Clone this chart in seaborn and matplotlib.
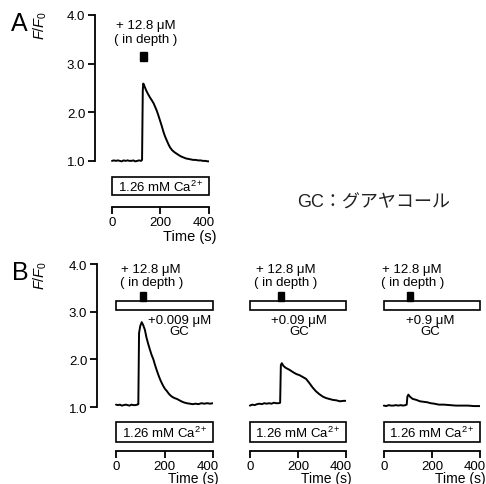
import matplotlib
matplotlib.use("Agg")
import matplotlib.pyplot as plt
import matplotlib.transforms as mtransforms
import seaborn as sns
from matplotlib.patches import Rectangle

# traces (time in s, F/F0)
time_a = [0, 8, 16, 24, 32, 40, 48, 56, 64, 72, 80, 88, 96, 104, 112, 120, 124, 127, 129, 133,
          140, 148, 157, 165, 172, 178, 184, 191, 198, 205, 212, 219, 225, 232, 239, 248, 257, 266, 275, 285,
          295, 305, 315, 325, 335, 345, 355, 365, 375, 385, 395, 400]
ff0_a = [1.00, 1.01, 1.00, 1.01, 1.00, 0.99, 1.01, 1.00, 1.01, 1.00, 1.00, 1.01, 0.99, 1.00, 1.01, 1.00, 1.02, 2.45, 2.59, 2.55,
         2.46, 2.38, 2.30, 2.24, 2.18, 2.11, 2.04, 1.94, 1.83, 1.72, 1.60, 1.50, 1.43, 1.35, 1.28, 1.22, 1.18, 1.15, 1.12, 1.09,
         1.07, 1.05, 1.04, 1.03, 1.02, 1.02, 1.01, 1.01, 1.00, 1.00, 0.99, 0.99]

time_b1 = [0, 8, 16, 24, 32, 40, 48, 56, 64, 72, 80, 88, 92, 95, 100, 106, 112, 119, 126, 133,
           140, 147, 154, 161, 168, 175, 181, 188, 195, 202, 209, 216, 223, 230, 240, 251, 262, 273, 284, 292,
           304, 316, 328, 340, 352, 364, 376, 388, 400]
ff0_b1 = [1.05, 1.04, 1.05, 1.03, 1.04, 1.05, 1.04, 1.03, 1.05, 1.04, 1.04, 1.05, 1.06, 2.55, 2.70, 2.78, 2.72, 2.62, 2.45, 2.32,
          2.20, 2.09, 2.00, 1.88, 1.77, 1.67, 1.59, 1.51, 1.44, 1.38, 1.34, 1.29, 1.25, 1.22, 1.19, 1.17, 1.14, 1.11, 1.09, 1.08,
          1.07, 1.06, 1.07, 1.06, 1.08, 1.07, 1.08, 1.07, 1.08]

time_b2 = [0, 10, 20, 30, 40, 50, 60, 70, 80, 90, 100, 110, 120, 126, 129, 133, 140, 150,
           165, 180, 194, 206, 220, 234, 248, 261, 275, 289, 303, 316, 330, 345, 360, 375, 390, 400]
ff0_b2 = [1.03, 1.05, 1.04, 1.06, 1.07, 1.06, 1.08, 1.07, 1.08, 1.07, 1.09, 1.08, 1.08, 1.09, 1.88, 1.92, 1.86, 1.82,
          1.78, 1.73, 1.69, 1.67, 1.63, 1.59, 1.50, 1.41, 1.33, 1.27, 1.22, 1.19, 1.17, 1.15, 1.14, 1.12, 1.13, 1.13]

time_b3 = [0, 10, 20, 30, 40, 50, 60, 70, 80, 90, 95, 98, 102, 110, 120, 135, 150, 165, 180, 195,
           210, 229, 250, 275, 300, 325, 350, 375, 400]
ff0_b3 = [1.03, 1.02, 1.04, 1.03, 1.03, 1.04, 1.03, 1.04, 1.03, 1.04, 1.05, 1.22, 1.26, 1.21, 1.17, 1.15, 1.12, 1.11, 1.10, 1.08,
          1.07, 1.05, 1.05, 1.04, 1.03, 1.03, 1.03, 1.02, 1.02]

gc_labels = ["+0.009 μM\nGC", "+0.09 μM\nGC", "+0.9 μM\nGC"]
stim_label = "+ 12.8 μM\n( in depth )"
ca_label = "1.26 mM Ca$^{\\mathrm{2+}}$"
yticks = [1, 2, 3, 4]
ytick_labels = ["1.0", "2.0", "3.0", "4.0"]
xticks = [0, 200, 400]

sns.set_style("ticks")
plt.rcParams["font.family"] = ["Liberation Sans", "Noto Sans CJK JP", "DejaVu Sans"]
plt.rcParams["mathtext.fontset"] = "custom"
plt.rcParams["mathtext.rm"] = "Liberation Sans"
plt.rcParams["mathtext.it"] = "Liberation Sans:italic"
plt.rcParams["axes.linewidth"] = 1.3
plt.rcParams["text.color"] = "black"
plt.rcParams["xtick.color"] = "black"
plt.rcParams["ytick.color"] = "black"
plt.rcParams["axes.edgecolor"] = "black"

W, H = 486, 485
fig = plt.figure(figsize=(W / 100, H / 100), dpi=100)


def px_axes(left, top, right, bottom):
    return fig.add_axes([left / W, 1 - bottom / H, (right - left) / W, (bottom - top) / H])


def style_axes(ax, xmin, axis_y, show_y):
    ax.set_xlim(xmin, 400)
    ax.set_ylim(0, 4)
    for s in ["top", "right"]:
        ax.spines[s].set_visible(False)
    ax.spines["bottom"].set_position(("data", axis_y))
    ax.spines["bottom"].set_bounds(0, 400)
    ax.set_xticks(xticks)
    ax.set_xticklabels([str(t) for t in xticks], fontsize=9.5)
    ax.tick_params(axis="x", length=5, width=1.3, pad=1.2)
    # the last label sits a little left of its tick
    last = ax.get_xticklabels()[-1]
    last.set_transform(last.get_transform() + mtransforms.ScaledTranslation(-5 / 100, 0, fig.dpi_scale_trans))
    if show_y:
        ax.spines["left"].set_bounds(1, 4)
        ax.set_yticks(yticks)
        ax.set_yticklabels(ytick_labels, fontsize=9.5)
        ax.tick_params(axis="y", length=5, width=1.3, pad=2)
    else:
        ax.spines["left"].set_visible(False)
        ax.set_yticks([])
    ax.set_xlabel("")
    ax.set_ylabel("")
    ax.patch.set_alpha(0)


def draw_trace(ax, t, v):
    sns.lineplot(x=t, y=v, ax=ax, color="black", lw=1.4)


def ca_box(ax, y0, h):
    ax.add_patch(Rectangle((0, y0), 400, h, fc="white", ec="black", lw=1.2, clip_on=False))
    ax.text(200, y0 + h / 2, ca_label, ha="center", va="center", fontsize=9.5, clip_on=False)


# Panel A
ax_a = px_axes(95, 16, 209, 210.5)
draw_trace(ax_a, time_a, ff0_a)
style_axes(ax_a, -70, 0.052, True)
ax_a.add_patch(Rectangle((115, 3.06), 28, 0.18, fc="black", ec="black", clip_on=False))
ax_a.text(140, 3.65, stim_label, ha="center", va="center", fontsize=9.5, linespacing=1.25)
ca_box(ax_a, 0.30, 0.37)
ax_a.text(429, -0.55, "Time (s)", ha="right", va="center", fontsize=10.5, clip_on=False)

# Panel B
b_specs = [
    (97, 213, time_b1, ff0_b1, 100, 262, True),
    (231, 346, time_b2, ff0_b2, 116, 206, False),
    (365, 480, time_b3, ff0_b3, 95, 195, False),
]
stim_x = [145, 148, 118]
for i, (l, r, t, v, stim_t, gc_x, show_y) in enumerate(b_specs):
    ax = px_axes(l, 265, r, 455.7)
    draw_trace(ax, t, v)
    style_axes(ax, -78.4, 0.078, show_y)
    ax.add_patch(Rectangle((0, 3.03), 400, 0.19, fc="white", ec="black", lw=1.2, clip_on=False))
    ax.add_patch(Rectangle((stim_t, 3.22), 25, 0.19, fc="black", ec="black", clip_on=False))
    ax.text(stim_x[i], 3.76, stim_label, ha="center", va="center", fontsize=9.5, linespacing=1.2)
    ax.text(gc_x, 2.71, gc_labels[i], ha="center", va="center", fontsize=9.5, linespacing=0.95)
    ca_box(ax, 0.256, 0.43)
    ax.text(425, -0.49, "Time (s)", ha="right", va="center", fontsize=10, clip_on=False)

# panel letters and y labels
fig.text(19 / W, 1 - 24 / H, "A", fontsize=18, ha="center", va="center")
fig.text(20 / W, 1 - 273 / H, "B", fontsize=18, ha="center", va="center")
fig.text(40 / W, 1 - 25 / H, "$F/F_0$", fontsize=10.5, rotation=90, ha="center", va="center")
fig.text(40 / W, 1 - 275 / H, "$F/F_0$", fontsize=10.5, rotation=90, ha="center", va="center")
fig.text(297 / W, 1 - 203 / H, "GC：グアヤコール", fontsize=13, ha="left", va="center", color="#222222")

fig.savefig("out.png", dpi=100)
